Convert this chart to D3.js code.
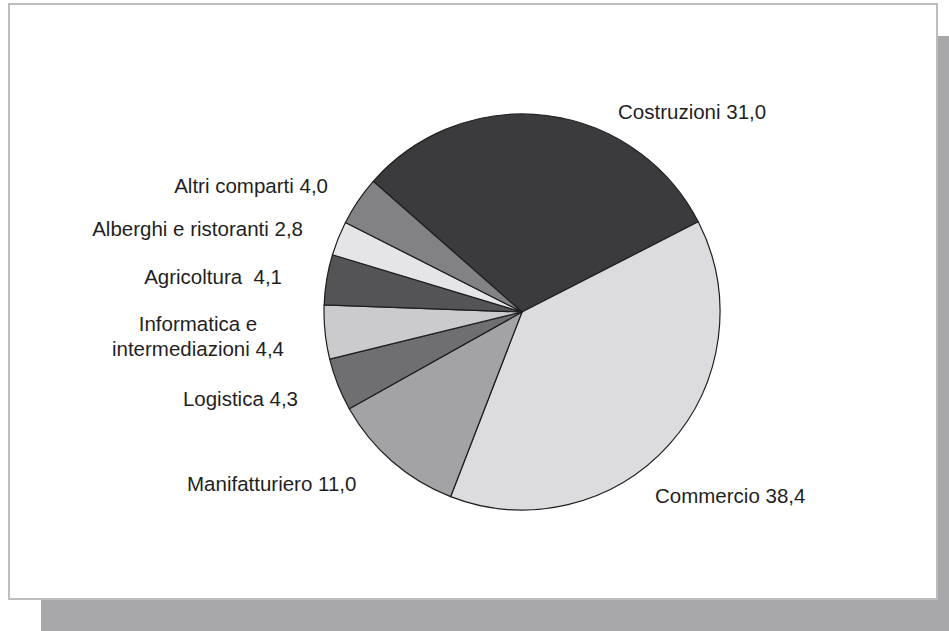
<!DOCTYPE html>
<html>
<head>
<meta charset="utf-8">
<script src="https://cdn.jsdelivr.net/npm/d3@7/dist/d3.min.js"></script>
<style>
  html, body { margin: 0; padding: 0; background: #ffffff; }
  svg { display: block; }
  text { font-family: "Liberation Sans", Arial, sans-serif; fill: #1f1f1f; }
</style>
</head>
<body>
<svg id="chart" width="949" height="631"></svg>
<script>
// Sector shares (%) of the pie, clockwise
const sectors = ["Costruzioni", "Commercio", "Manifatturiero", "Logistica",
                 "Informatica e intermediazioni", "Agricoltura",
                 "Alberghi e ristoranti", "Altri comparti"];
const shares = [31.0, 38.4, 11.0, 4.3, 4.4, 4.1, 2.8, 4.0];
// Label lines as printed next to each slice
const labelLines = [
  ["Costruzioni 31,0"],
  ["Commercio 38,4"],
  ["Manifatturiero 11,0"],
  ["Logistica 4,3"],
  ["Informatica e", "intermediazioni 4,4"],
  ["Agricoltura  4,1"],
  ["Alberghi e ristoranti 2,8"],
  ["Altri comparti 4,0"]
];

// Grey fills per slice
const fills = ["#3b3a3d", "#dcdcdf", "#a3a3a6", "#6f6f72",
               "#cbcbcd", "#545456", "#e5e5e7", "#828285"];

// Label anchors: [x, y of first line centre, text-anchor]
const labelAnchors = [
  [618, 111, "start"],
  [655, 495, "start"],
  [187, 483, "start"],
  [298, 398, "end"],
  [198, 323, "middle"],
  [282, 276, "end"],
  [303, 228, "end"],
  [328, 185, "end"]
];

const svg = d3.select("#chart");

// Drop shadow and framed panel
svg.append("rect").attr("x", 41).attr("y", 36).attr("width", 949 - 41).attr("height", 631 - 36)
  .attr("fill", "#a8a8ab");
svg.append("rect").attr("x", 9).attr("y", 4).attr("width", 928).attr("height", 595)
  .attr("fill", "#ffffff").attr("stroke", "#bdbdbf").attr("stroke-width", 2);

const cx = 522, cy = 312, radius = 198;
const start = -48.7 * Math.PI / 180;

const pie = d3.pie().sort(null).value(d => d)
  .startAngle(start).endAngle(start + 2 * Math.PI);
const arc = d3.arc().innerRadius(0).outerRadius(radius);

const g = svg.append("g").attr("transform", `translate(${cx},${cy})`);
g.selectAll("path.slice")
  .data(pie(shares))
  .join("path")
  .attr("class", "slice")
  .attr("d", arc)
  .attr("fill", (d, i) => fills[i])
  .attr("stroke", "#1e1e20")
  .attr("stroke-width", 1.2)
  .attr("stroke-linejoin", "round");

// Slice labels
const lineH = 25;
const labels = svg.append("g");
labelLines.forEach((lines, i) => {
  const [x, y, anchor] = labelAnchors[i];
  const t = labels.append("text")
    .attr("x", x).attr("y", y)
    .attr("text-anchor", anchor)
    .attr("dominant-baseline", "central")
    .attr("font-size", 20.5)
    .style("white-space", "pre");
  lines.forEach((ln, k) => {
    t.append("tspan").attr("x", x).attr("y", y + k * lineH).text(ln);
  });
});
</script>
</body>
</html>
